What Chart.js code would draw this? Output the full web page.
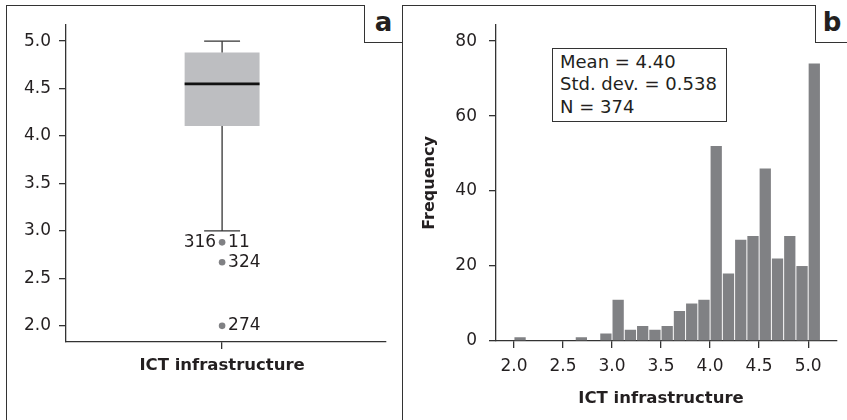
<!DOCTYPE html>
<html>
<head>
<meta charset="utf-8">
<title>ICT infrastructure</title>
<script src="https://cdn.jsdelivr.net/npm/chart.js@4.4.1/dist/chart.umd.min.js"></script>
<style>
  html, body { margin: 0; padding: 0; background: #fff; }
  #wrap { position: relative; width: 847px; height: 420px; overflow: hidden; font-family: 'DejaVu Sans', sans-serif; color: #231f20; }
  canvas { position: absolute; top: 0; }
  #boxCanvas { left: 0; }
  #histCanvas { left: 403px; }
  .frame { position: absolute; left: 6px; top: 5px; width: 860px; height: 430px; border-top: 1px solid #333; border-left: 1px solid #333; }
  .divider { position: absolute; left: 402px; top: 5px; width: 1px; height: 420px; background: #333; }
  .tag { position: absolute; top: 5px; height: 37px; border-left: 1px solid #333; border-bottom: 1px solid #333; background: #fff;
         font-weight: bold; font-size: 26px; line-height: 34px; text-align: center; }
  #tagA { left: 364px; width: 37px; }
  #tagB { left: 815px; width: 32px; }
  #stats { position: absolute; left: 552px; top: 48px; width: 166px; height: 70px; border: 1px solid #333; background: #fff;
           padding: 2px 0 0 7px; font-size: 18px; line-height: 22.4px; }
</style>
</head>
<body>
<div id="wrap">
  <canvas id="boxCanvas" width="402" height="420"></canvas>
  <canvas id="histCanvas" width="444" height="420"></canvas>
  <div class="frame"></div>
  <div class="divider"></div>
  <div class="tag" id="tagA">a</div>
  <div class="tag" id="tagB">b</div>
  <div id="stats"></div>
</div>
<script>
// panel a: box plot values
const axisTitle = 'ICT infrastructure';
const boxTicks = [2.0, 2.5, 3.0, 3.5, 4.0, 4.5, 5.0];
const whiskerLow = 3.0;
const quartile1 = 4.105;
const medianValue = 4.55;
const quartile3 = 4.88;
const whiskerHigh = 5.0;
const outlierValues = [2.88, 2.67, 2.0];
const outlierLeftIds = ['316', '', ''];
const outlierRightIds = ['11', '324', '274'];

// panel b: histogram values
const binStarts = [2.0, 2.125, 2.25, 2.375, 2.5, 2.625, 2.75, 2.875,
                   3.0, 3.125, 3.25, 3.375, 3.5, 3.625, 3.75, 3.875,
                   4.0, 4.125, 4.25, 4.375, 4.5, 4.625, 4.75, 4.875, 5.0];
const freqs = [1, 0, 0, 0, 0, 1, 0, 2,
               11, 3, 4, 3, 4, 8, 10, 11,
               52, 18, 27, 28, 46, 22, 28, 20, 74];
const binWidth = 0.125;
const histXTicks = [2.0, 2.5, 3.0, 3.5, 4.0, 4.5, 5.0];
const histYTicks = [0, 20, 40, 60, 80];
const statLines = ['Mean = 4.40', 'Std. dev. = 0.538', 'N = 374'];

const ink = '#231f20';
const axisColor = '#333';

Chart.defaults.font.family = "'DejaVu Sans', sans-serif";
Chart.defaults.color = ink;
Chart.defaults.animation = false;

document.getElementById('stats').innerHTML = statLines.join('<br>');

// x title centred on a chosen axis value
const centerTitle = {
  id: 'centerTitle',
  afterDraw(chart, args, opts) {
    const ctx = chart.ctx;
    ctx.save();
    ctx.font = 'bold 16.5px "DejaVu Sans"';
    ctx.fillStyle = ink;
    ctx.textAlign = 'center';
    ctx.textBaseline = 'middle';
    ctx.fillText(opts.text, chart.scales.x.getPixelForValue(opts.at), opts.y);
    ctx.restore();
  }
};

// outlier case numbers
const outlierLabels = {
  id: 'outlierLabels',
  afterDatasetsDraw(chart) {
    const ctx = chart.ctx;
    const px = chart.scales.x.getPixelForValue(0);
    ctx.save();
    ctx.font = '17px "DejaVu Sans"';
    ctx.fillStyle = ink;
    ctx.textBaseline = 'middle';
    outlierValues.forEach((v, i) => {
      const py = chart.scales.y.getPixelForValue(v);
      if (outlierLeftIds[i]) {
        ctx.textAlign = 'right';
        ctx.fillText(outlierLeftIds[i], px - 6, py);
      }
      if (outlierRightIds[i]) {
        ctx.textAlign = 'left';
        ctx.fillText(outlierRightIds[i], px + 6, py);
      }
    });
    ctx.restore();
  }
};

function axisGrid() {
  return { display: true, drawOnChartArea: false, drawTicks: true, tickLength: 7, color: axisColor, lineWidth: 1.3, offset: false };
}

function renderBoxPlot() {
  const xMin = -1, xMax = 1.05;
  const boxHalf = 0.24, capHalf = 0.115;
  const lineSet = (pts, color, width) => ({
    type: 'line', data: pts, borderColor: color, borderWidth: width,
    pointRadius: 0, fill: false, order: 1
  });

  new Chart(document.getElementById('boxCanvas'), {
    type: 'bar',
    data: {
      datasets: [
        {
          type: 'bar',
          data: [{ x: 0, y: [quartile1, quartile3] }],
          backgroundColor: '#bdbec1',
          borderWidth: 0,
          barPercentage: (2 * boxHalf) / (xMax - xMin),
          categoryPercentage: 1,
          order: 3
        },
        lineSet([{ x: 0, y: quartile3 }, { x: 0, y: whiskerHigh }], axisColor, 1.3),
        lineSet([{ x: 0, y: whiskerLow }, { x: 0, y: quartile1 }], axisColor, 1.3),
        lineSet([{ x: -capHalf, y: whiskerHigh }, { x: capHalf, y: whiskerHigh }], axisColor, 1.3),
        lineSet([{ x: -capHalf, y: whiskerLow }, { x: capHalf, y: whiskerLow }], axisColor, 1.3),
        lineSet([{ x: -boxHalf, y: medianValue }, { x: boxHalf, y: medianValue }], '#111', 2.6),
        {
          type: 'scatter',
          data: outlierValues.map(v => ({ x: 0, y: v })),
          backgroundColor: '#808184',
          borderWidth: 0,
          pointRadius: 3.3,
          order: 0
        }
      ]
    },
    options: {
      responsive: false,
      layout: { padding: { left: 0, right: 16, top: 25, bottom: 0 } },
      plugins: {
        legend: { display: false },
        tooltip: { enabled: false },
        centerTitle: { text: axisTitle, at: 0, y: 366 }
      },
      scales: {
        x: {
          type: 'linear', min: xMin, max: xMax, offset: false,
          afterBuildTicks: s => { s.ticks = [{ value: 0 }]; },
          afterFit: s => { s.height = 78; },
          ticks: { callback: () => '' },
          grid: axisGrid(),
          border: { display: true, color: axisColor, width: 1.3 }
        },
        y: {
          type: 'linear', min: 1.83, max: 5.17,
          afterBuildTicks: s => { s.ticks = boxTicks.map(v => ({ value: v })); },
          afterFit: s => { s.width = 66; },
          ticks: { font: { size: 17 }, color: ink, padding: 8, callback: v => v.toFixed(1) },
          grid: axisGrid(),
          border: { display: true, color: axisColor, width: 1.3 }
        }
      }
    },
    plugins: [centerTitle, outlierLabels]
  });
}

function renderHistogram() {
  new Chart(document.getElementById('histCanvas'), {
    type: 'bar',
    data: {
      datasets: [{
        data: binStarts.map((b, i) => ({ x: b + binWidth / 2, y: freqs[i] })),
        backgroundColor: '#808184',
        borderWidth: 0,
        barPercentage: 0.92,
        categoryPercentage: 1
      }]
    },
    options: {
      responsive: false,
      layout: { padding: { left: 0, right: 10, top: 25, bottom: 0 } },
      plugins: {
        legend: { display: false },
        tooltip: { enabled: false },
        centerTitle: { text: axisTitle, at: 3.5, y: 399 }
      },
      scales: {
        x: {
          type: 'linear', min: 1.817, max: 5.294, offset: false,
          afterBuildTicks: s => { s.ticks = histXTicks.map(v => ({ value: v })); },
          afterFit: s => { s.height = 79; },
          ticks: { font: { size: 17 }, color: ink, padding: 8, maxRotation: 0, callback: v => v.toFixed(1) },
          grid: axisGrid(),
          border: { display: true, color: axisColor, width: 1.3 }
        },
        y: {
          type: 'linear', min: 0, max: 84.3,
          afterBuildTicks: s => { s.ticks = histYTicks.map(v => ({ value: v })); },
          afterFit: s => { s.width = 93; },
          ticks: { font: { size: 17 }, color: ink, padding: 12 },
          title: { display: true, text: 'Frequency', font: { size: 16, weight: 'bold' }, color: ink, padding: { top: 17, bottom: 0 } },
          grid: axisGrid(),
          border: { display: true, color: axisColor, width: 1.3 }
        }
      }
    },
    plugins: [centerTitle]
  });
}

document.addEventListener('DOMContentLoaded', function() {
  renderBoxPlot();
  renderHistogram();
});
</script>
</body>
</html>
